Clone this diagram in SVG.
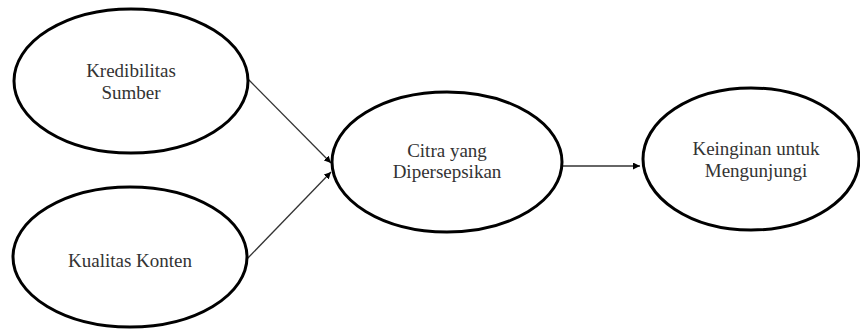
<svg xmlns="http://www.w3.org/2000/svg" width="860" height="329" viewBox="0 0 860 329">
<defs>
<style>
.node ellipse{fill:#fff;stroke:#000;stroke-width:3}
.node text{font-family:'Liberation Serif','Times New Roman',serif;font-size:19px;fill:#333;text-anchor:middle}
.edge{stroke:#333;stroke-width:1.3;fill:none;marker-end:url(#ah)}
</style>
<marker id="ah" viewBox="0 0 10 10" refX="10" refY="5" markerWidth="7" markerHeight="7" markerUnits="userSpaceOnUse" orient="auto">
<path d="M0,0 L10,5 L0,10 z" fill="#000"/>
</marker>
</defs>
<rect width="860" height="329" fill="#fff"/>
<g id="connectors">
<line class="edge" x1="247" y1="78" x2="331" y2="163"/>
<line class="edge" x1="246" y1="260" x2="331" y2="172"/>
<line class="edge" x1="562" y1="166" x2="640" y2="166"/>
</g>
<g id="kredibilitas" class="node">
<ellipse cx="131" cy="81" rx="117" ry="72"/>
<text x="131" y="77">Kredibilitas</text>
<text x="131" y="99">Sumber</text>
</g>
<g id="kualitas" class="node">
<ellipse cx="130" cy="257" rx="117" ry="70"/>
<text x="130" y="267">Kualitas Konten</text>
</g>
<g id="citra" class="node">
<ellipse cx="447" cy="162" rx="115" ry="70"/>
<text x="447" y="157">Citra yang</text>
<text x="447" y="178">Dipersepsikan</text>
</g>
<g id="keinginan" class="node">
<ellipse cx="751" cy="159" rx="108" ry="71"/>
<text x="756" y="155">Keinginan untuk</text>
<text x="756" y="177">Mengunjungi</text>
</g>
</svg>
